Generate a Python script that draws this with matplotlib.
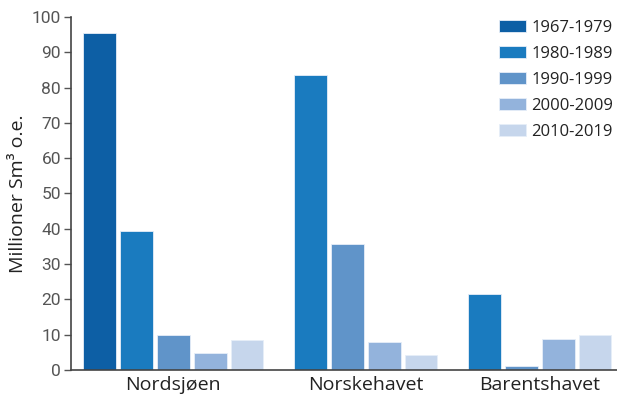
import matplotlib.pyplot as plt
import numpy as np

# Områder og tiår
omraader = ['Nordsjøen', 'Norskehavet', 'Barentshavet']
perioder = ['1967-1979', '1980-1989', '1990-1999', '2000-2009', '2010-2019']
farger = ['#0d5fa5', '#1a7bbf', '#6094c9', '#93b3dc', '#c6d6ec']

# Millioner Sm³ o.e. per periode (None = ingen verdi)
nordsjoen = [95.4, 39.5, 9.9, 4.9, 8.4]
norskehavet = [None, 83.5, 35.7, 7.9, 4.3]
barentshavet = [None, 21.5, 1.1, 8.9, 10.0]
verdier = [nordsjoen, norskehavet, barentshavet]

gap = 0.73      # ekstra mellomrom mellom områdene
bredde = 0.89

fig = plt.figure(figsize=(6.17, 3.99), dpi=100)
ax = fig.add_axes([0.1146, 0.0727, 0.8854, 0.8847])

pos = 0.0
senter = []
brukt = set()
for i, rad in enumerate(verdier):
    xs = []
    for j, v in enumerate(rad):
        if v is None:
            continue
        lab = perioder[j] if j not in brukt else None
        brukt.add(j)
        ax.bar(pos, v, width=bredde, color=farger[j], edgecolor='#e6eef8',
               linewidth=0.6, label=lab, zorder=2)
        xs.append(pos)
        pos += 1
    senter.append(np.mean(xs))
    pos += gap

ax.set_xlim(-0.79, 14.06)
ax.set_ylim(0, 100)
ax.set_yticks(range(0, 101, 10))
ax.set_xticks(senter)
ax.set_xticklabels(omraader, fontsize=14, family=['Open Sans', 'DejaVu Sans'],
                   color='#222222')
ax.tick_params(axis='x', length=0, pad=4)
ax.tick_params(axis='y', length=5, width=1, color='#555555', pad=2,
               labelcolor='#555555')
for t in ax.get_yticklabels():
    t.set_family(['Liberation Sans Narrow', 'Roboto', 'DejaVu Sans'])
    t.set_fontsize(12.5)

for s in ['top', 'right']:
    ax.spines[s].set_visible(False)
for s in ['left', 'bottom']:
    ax.spines[s].set_color('#444444')
    ax.spines[s].set_linewidth(1.2)

ax.set_ylabel('Millioner Sm³ o.e.', fontsize=14, family=['Open Sans', 'DejaVu Sans'],
              color='#222222')
ax.yaxis.set_label_coords(-0.08, 0.5)

handles, labels = ax.get_legend_handles_labels()
order = [labels.index(p) for p in perioder]
ax.legend([handles[k] for k in order], [labels[k] for k in order],
          loc='upper right', bbox_to_anchor=(1.02, 1.035), frameon=False,
          prop={'family': ['Open Sans', 'DejaVu Sans'], 'size': 12},
          handlelength=1.62, handleheight=0.76, handletextpad=0.3,
          labelspacing=0.6, labelcolor='#222222')

plt.savefig('out.png', dpi=100)
